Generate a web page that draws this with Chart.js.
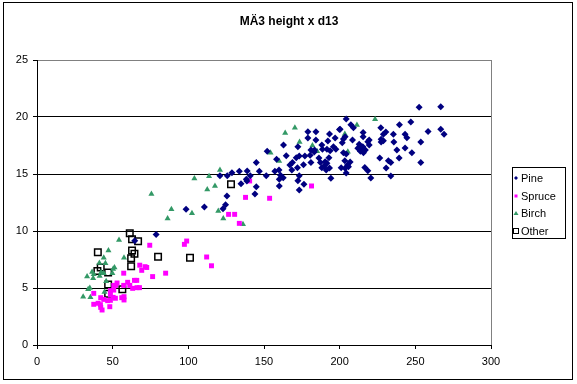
<!DOCTYPE html>
<html lang="en">
<head>
  <meta charset="UTF-8">
  <title>MÄ3 height x d13</title>
  <style>
    body { margin: 0; background: #fff; }
    canvas { display: block; }
  </style>
  <script src="https://cdn.jsdelivr.net/npm/chart.js"></script>
</head>
<body>
  <canvas id="chart" width="577" height="384"></canvas>

  <script>
    const chartTitle = 'MÄ3 height x d13';
    const seriesNames = ['Pine', 'Spruce', 'Birch', 'Other'];
    const xTickValues = [0, 50, 100, 150, 200, 250, 300];
    const yTickValues = [0, 5, 10, 15, 20, 25];

    // Pine: d13 and height
    const pineD13 = [78.7, 64.6, 120.9, 125.7, 128.8, 133.7, 125.5, 98.5, 110.6, 124.6, 122.9,
      179, 184.3, 193.3, 199.9, 179, 184.3, 197, 192.2, 162.9, 172.4, 188.2, 188.6, 195.9, 197.5,
      193.7, 191.6, 181, 183.4, 183.2, 152.1, 164.7, 171.3, 173.3, 177, 180.5, 186.3, 192.9, 158.3,
      144.9, 168.8, 167.1, 168.4, 176.1, 181, 187.3, 190.4, 191.6, 189.8, 191.1, 193.3, 188.2, 172.1,
      157.2, 159.9, 146.9, 138.9, 151.5, 160.9, 162.7, 160.1, 138.3, 134.8, 172.4, 176.4, 144.9,
      160.1, 194.2, 173.3, 144, 140.9, 173.3, 138.7,
      252.5, 266.8, 204.3, 247, 239.5, 227.2, 207.4, 209.1, 200.3, 266.8, 269, 258.4, 215.5, 215.5,
      230.5, 228.9, 235.5, 243.2, 244.4, 203.6, 202.5, 201.7, 208.5, 227.4, 228.9, 227.4, 219.5,
      218.6, 235.8, 253.6, 212.9, 213.5, 215.3, 212, 214.6, 217, 213.7, 219.5, 215.7, 243.2, 237.8,
      247.7, 202.5, 204.3, 226.5, 239.3, 203.4, 206.9, 205.2, 232.2, 233.8, 253.6, 201, 203.6,
      205.8, 216.6, 218.6, 230.7, 204.3, 220.6, 233.8];
    const pineHeight = [9.7, 9.15, 14.85, 14.85, 15.1, 15.25, 13.07, 11.9, 12.1, 12.3, 11.96,
      18.7, 18.7, 18.5, 18.9, 18.16, 17.98, 18.16, 17.9, 17.54, 17.4, 17.54, 17.17, 17.4, 17.17,
      17.05, 17.17, 17.1, 17.1, 16.93, 17.0, 16.6, 16.43, 16.58, 16.58, 16.64, 16.4, 16.43, 16.29,
      16.0, 16.0, 15.8, 15.35, 15.82, 16.0, 16.0, 16.08, 15.94, 15.7, 15.35, 15.53, 15.55, 15.55,
      15.24, 15.35, 15.24, 15.26, 14.85, 14.9, 14.68, 14.53, 14.53, 14.15, 14.41, 14.1, 13.89,
      13.95, 14.62, 13.6, 13.25, 14.85, 14.85, 14.39,
      20.85, 20.9, 19.82, 19.56, 19.33, 19.06, 19.33, 19.06, 18.92, 18.92, 18.48, 18.72, 18.65, 18.27,
      18.68, 18.48, 18.48, 18.48, 18.18, 18.27, 18.07, 17.75, 17.98, 18.04, 17.92, 17.8, 17.98,
      17.83, 17.8, 17.8, 17.6, 17.46, 17.4, 17.25, 17.17, 17.1, 17.0, 17.54, 16.87, 17.28, 17.1,
      16.87, 16.87, 16.75, 16.4, 16.4, 16.17, 16.05, 15.8, 16.17, 16.0, 16.0, 15.55, 15.5,
      15.64, 15.58, 15.29, 15.53, 15.09, 14.65, 14.82];

    const spruceD13 = [74.5, 67.9, 71.4, 72.5, 69.2, 57.3, 85, 76.4, 64.4, 65.9, 52.9, 50.7, 52,
      57.3, 59.9, 61.3, 63.2, 66.1, 67.7, 50.7, 48.5, 37.5, 42.1, 44.1, 48.5, 50.3, 51.8, 46.7,
      48.5, 56, 57.5, 57.5, 37.5, 40.4, 41.9, 42.1, 43, 48.1, 126.6, 130.6, 133.7, 98.9, 97.4,
      112.1, 115.3, 140.5, 181.4, 137.8, 153.7];
    const spruceHeight = [8.75, 7.0, 6.87, 6.8, 6.55, 6.3, 6.3, 6.0, 5.67, 5.67, 5.44, 5.23, 5.23,
      5.23, 5.5, 5.23, 4.97, 5.03, 5.03, 4.82, 4.77, 4.53, 4.15, 4.0, 4.39, 4.18, 4.1, 3.89,
      3.92, 4.15, 4.24, 3.95, 3.57, 3.66, 3.54, 3.3, 3.07, 3.36, 11.46, 11.46, 10.67, 9.12, 8.83,
      7.72, 6.95, 14.39, 13.95, 12.95, 12.87];

    const birchD13 = [54.2, 47.2, 44.1, 57.5, 41.2, 45.2, 51.2, 50.3, 36.4, 37.5, 42.4, 44.1, 41.4,
      49.8, 33.1, 37.1, 45.7, 34.9, 33.8, 44.6, 30.5, 35.3, 120.9, 113.7, 104, 117.6, 112.5, 75.6,
      88.8, 102.4, 119.8, 86.3, 123.1, 170.4, 164, 173.5, 182, 185.1, 154.3, 160, 223.4, 211.4,
      203.4, 205.4, 136.1];
    const birchHeight = [9.2, 8.3, 7.66, 7.66, 7.2, 7.17, 6.8, 6.67, 6.4, 6.2, 6.38, 6.3, 6.05,
      6.3, 6.0, 5.85, 5.6, 5.0, 4.9, 4.65, 4.24, 4.18, 15.35, 14.8, 14.6, 13.95, 13.65, 13.25,
      11.9, 11.55, 11.75, 11.1, 11.1, 19.06, 18.6, 17.8, 17.5, 17.0, 16.87, 16.14, 19.8, 19.3,
      18.5, 16.96, 10.6];

    const otherD13 = [61.3, 62.8, 66.8, 40.2, 62.8, 64.4, 62.2, 80, 42.1, 39.9, 47, 62.2, 47, 56.4,
      47, 128.2, 101.1];
    const otherHeight = [9.8, 9.27, 9.1, 8.13, 8.3, 8.0, 7.6, 7.75, 6.8, 6.5, 6.35, 6.9, 5.3, 4.9,
      4.5, 14.1, 7.66];

    const FONT = 'Arial, "Liberation Sans", sans-serif';

    function points(xs, ys) {
      return xs.map((x, i) => ({ x: x, y: ys[i] }));
    }

    const datasets = [
      { label: seriesNames[0], data: points(pineD13, pineHeight), pointStyle: 'rectRot',
        pointRadius: 3.5, backgroundColor: '#000080', borderColor: '#000080', borderWidth: 0 },
      { label: seriesNames[1], data: points(spruceD13, spruceHeight), pointStyle: 'rect',
        pointRadius: 3.5, backgroundColor: '#ff00ff', borderColor: '#ff00ff', borderWidth: 0 },
      { label: seriesNames[2], data: points(birchD13, birchHeight), pointStyle: 'triangle',
        pointRadius: 3.5, backgroundColor: '#339966', borderColor: '#339966', borderWidth: 0 },
      { label: seriesNames[3], data: points(otherD13, otherHeight), pointStyle: 'rect',
        pointRadius: 4.6, backgroundColor: 'rgba(0,0,0,0)', borderColor: '#000000', borderWidth: 1.5 }
    ];

    // title, frame, plot border and legend, drawn Excel-like
    const excelDecor = {
      id: 'excelDecor',
      beforeDraw(chart) {
        const c = chart.ctx;
        c.save();
        c.fillStyle = '#fff';
        c.fillRect(0, 0, chart.width, chart.height);
        c.restore();
      },
      afterDraw(chart) {
        const c = chart.ctx;
        const a = chart.chartArea;
        c.save();
        // outer frame
        c.strokeStyle = '#000';
        c.lineWidth = 1;
        c.strokeRect(3.5, 2.5, 569, 377);
        // right plot border
        c.strokeStyle = '#808080';
        c.beginPath();
        c.moveTo(Math.round(a.right) + 0.5, a.top);
        c.lineTo(Math.round(a.right) + 0.5, a.bottom);
        c.stroke();
        // title
        c.fillStyle = '#000';
        c.font = 'bold 12px ' + FONT;
        c.textAlign = 'center';
        c.textBaseline = 'middle';
        c.fillText(chartTitle, 289, 22);
        // legend
        c.strokeStyle = '#000';
        c.strokeRect(512.5, 167.5, 53, 71);
        c.font = '11px ' + FONT;
        c.textAlign = 'left';
        chart.data.datasets.forEach((ds, i) => {
          const y = Math.round(178 + i * 17.7);
          const st = ds.pointStyle;
          c.fillStyle = ds.backgroundColor;
          c.strokeStyle = ds.borderColor;
          if (i === 3) {
            c.lineWidth = 1;
            c.strokeRect(513.5, y - 2.5, 5, 5);
          } else if (st === 'rectRot') {
            c.beginPath();
            c.moveTo(516, y - 2); c.lineTo(518, y); c.lineTo(516, y + 2); c.lineTo(514, y);
            c.closePath(); c.fill();
          } else if (st === 'triangle') {
            c.beginPath();
            c.moveTo(516, y - 2); c.lineTo(518.5, y + 2); c.lineTo(513.5, y + 2);
            c.closePath(); c.fill();
          } else {
            c.fillRect(514.5, y - 1.5, 3, 3);
          }
          c.fillStyle = '#000';
          c.fillText(ds.label, 521, y + 0.5);
        });
        c.restore();
      }
    };

    new Chart(document.getElementById('chart'), {
      type: 'scatter',
      data: { datasets: datasets },
      options: {
        responsive: false,
        animation: false,
        layout: { padding: { left: 0, right: 86, top: 60, bottom: 0 } },
        plugins: {
          legend: { display: false },
          title: { display: false },
          tooltip: { enabled: false }
        },
        scales: {
          x: {
            type: 'linear',
            min: 0,
            max: 300,
            afterBuildTicks: s => { s.ticks = xTickValues.map(v => ({ value: v })); },
            afterFit: s => { s.height = 39; },
            border: { color: '#000', width: 1 },
            grid: { drawOnChartArea: false, color: '#000', tickColor: '#000', tickLength: 4 },
            ticks: { color: '#000', font: { family: FONT, size: 11 }, padding: 6, maxRotation: 0 }
          },
          y: {
            type: 'linear',
            min: 0,
            max: 25,
            afterBuildTicks: s => { s.ticks = yTickValues.map(v => ({ value: v })); },
            afterFit: s => { s.width = 37; },
            border: { color: '#000', width: 1 },
            grid: {
              color: ctx => (ctx.tick && ctx.tick.value === 25 ? '#808080' : '#000'),
              tickColor: '#000',
              tickLength: 4
            },
            ticks: { color: '#000', font: { family: FONT, size: 11 }, padding: 5 }
          }
        }
      },
      plugins: [excelDecor]
    });
  </script>
</body>
</html>
